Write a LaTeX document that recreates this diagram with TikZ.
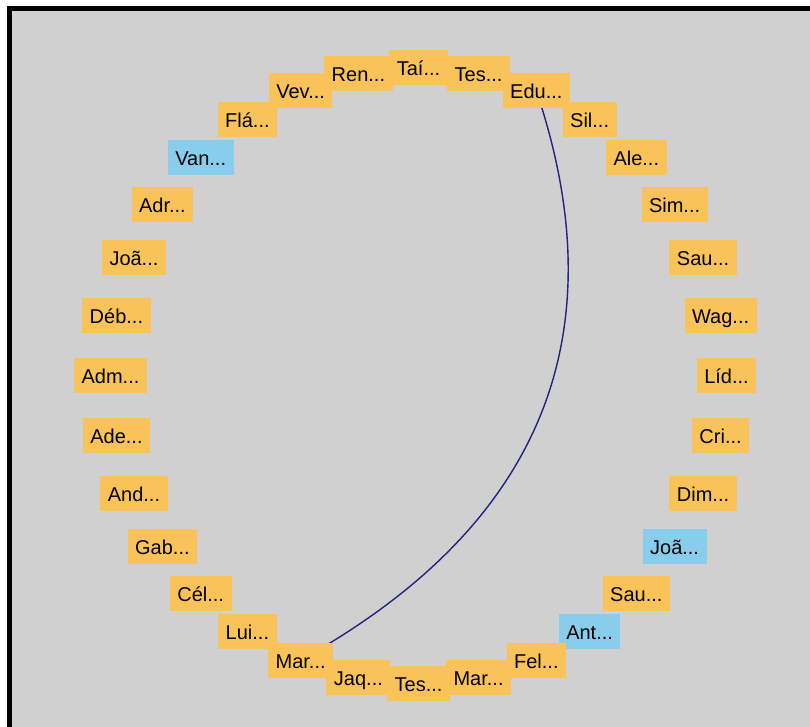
\documentclass[tikz,border=0pt]{standalone}
\usepackage{fontspec}
\setmainfont{Liberation Sans}
\definecolor{nodeorange}{HTML}{F9C35A}
\definecolor{nodeblue}{HTML}{88CDEC}
\definecolor{bggray}{HTML}{D0D0D0}
\definecolor{edgeblue}{HTML}{22227F}
\pgfdeclarelayer{bg}
\pgfdeclarelayer{edges}
\pgfsetlayers{bg,edges,main}
\newcommand{\trd}{.{}.{}.}
\begin{document}
\begin{tikzpicture}[x=1pt,y=-1pt,
  lbl/.style={rectangle, fill=nodeorange, inner xsep=7.5pt, inner ysep=9.5pt,
    text height=16pt, text depth=0pt, font=\fontsize{20}{24}\selectfont, text=black},
  hl/.style={lbl, fill=nodeblue},
  edge/.style={draw=edgeblue, line width=1.4pt}]
\useasboundingbox (0,0) rectangle (810,727);
\begin{pgfonlayer}{bg}
\clip (0,0) rectangle (810,727);
\fill[white] (0,0) rectangle (810,727);
\draw[line width=5pt, fill=bggray] (9.5,8.3) rectangle (830,750);
\end{pgfonlayer}
\foreach \i/\lab/\sty in {0/Taí/lbl, 1/Tes/lbl, 2/Edu/lbl, 3/Sil/lbl,
  4/Ale/lbl, 5/Sim/lbl, 6/Sau/lbl, 7/Wag/lbl, 8/Líd/lbl,
  9/Cri/lbl, 10/Dim/lbl, 11/Joã/hl, 12/Sau/lbl, 13/Ant/hl,
  14/Fel/lbl, 15/Mar/lbl, 16/Tes/lbl, 17/Jaq/lbl, 18/Mar/lbl,
  19/Lui/lbl, 20/Cél/lbl, 21/Gab/lbl, 22/And/lbl, 23/Ade/lbl,
  24/Adm/lbl, 25/Déb/lbl, 26/Joã/lbl, 27/Adr/lbl, 28/Van/hl,
  29/Flá/lbl, 30/Vev/lbl, 31/Ren/lbl}
{
  \node[\sty] (n\i) at ({418.5+308*cos(90-11.25*\i)}, {375.5-308*sin(90-11.25*\i)}) {\lab\trd};
}
\begin{pgfonlayer}{edges}
\draw[edge] (n2.center) .. controls +(83,246.3) and +(239.3,-133) .. (n18.center);
\end{pgfonlayer}
\end{tikzpicture}
\end{document}
